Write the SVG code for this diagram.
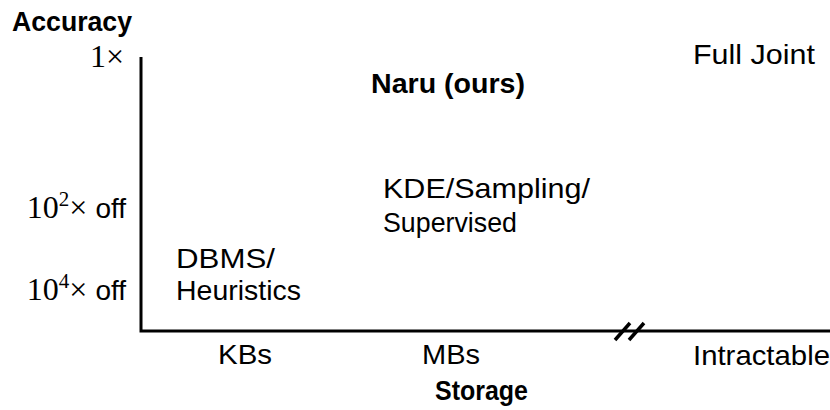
<svg xmlns="http://www.w3.org/2000/svg" width="830" height="410" viewBox="0 0 830 410">
<style>
.t{font-family:"Liberation Sans",Arial,sans-serif;font-size:28px;fill:#000}
.b{font-weight:bold;font-size:27px}
.m{font-family:"Liberation Serif","DejaVu Serif",serif;font-size:32px;fill:#000}
.s{font-size:21px}
.ax{stroke:#000;stroke-width:3;fill:none}
</style>
<rect width="830" height="410" fill="#fff"/>
<g id="axes">
<path class="ax" d="M141,57 V331 H830"/>
<path d="M615,340 L630,323 M629,340 L644,323" stroke="#000" stroke-width="3.5" fill="none"/>
</g>
<g id="y-labels">
<text class="t b" x="12" y="31" textLength="120" lengthAdjust="spacingAndGlyphs">Accuracy</text>
<text class="m" x="124" y="67" text-anchor="end">1×</text>
<text x="126" y="218" text-anchor="end"><tspan class="m">10<tspan class="s" dy="-12">2</tspan><tspan dy="12">× </tspan></tspan><tspan class="t">off</tspan></text>
<text x="126" y="300" text-anchor="end"><tspan class="m">10<tspan class="s" dy="-12">4</tspan><tspan dy="12">× </tspan></tspan><tspan class="t">off</tspan></text>
</g>
<g id="x-labels">
<text class="t" x="218" y="364" textLength="54" lengthAdjust="spacingAndGlyphs">KBs</text>
<text class="t" x="422" y="364" textLength="58" lengthAdjust="spacingAndGlyphs">MBs</text>
<text class="t" x="693" y="365" textLength="137" lengthAdjust="spacingAndGlyphs">Intractable</text>
<text class="t b" x="435" y="400" textLength="93" lengthAdjust="spacingAndGlyphs">Storage</text>
</g>
<g id="naru"><text class="t b" x="371" y="93" textLength="154" lengthAdjust="spacingAndGlyphs">Naru (ours)</text></g>
<g id="fulljoint"><text class="t" x="693" y="64" textLength="122" lengthAdjust="spacingAndGlyphs">Full Joint</text></g>
<g id="kde"><text class="t" x="383" y="198" textLength="207" lengthAdjust="spacingAndGlyphs">KDE/Sampling/</text><text class="t" x="383" y="232" textLength="134" lengthAdjust="spacingAndGlyphs">Supervised</text></g>
<g id="dbms"><text class="t" x="176" y="268" textLength="99" lengthAdjust="spacingAndGlyphs">DBMS/</text><text class="t" x="176" y="300" textLength="125" lengthAdjust="spacingAndGlyphs">Heuristics</text></g>
</svg>
